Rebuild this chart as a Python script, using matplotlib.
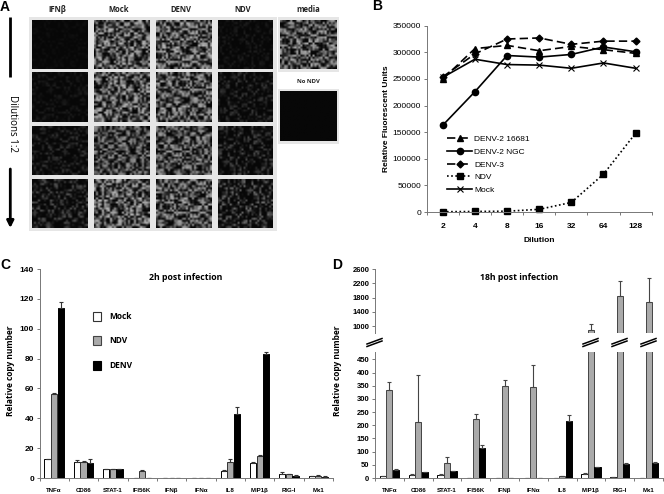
import numpy as np
import matplotlib
matplotlib.use('Agg')
import matplotlib.pyplot as plt
from matplotlib.lines import Line2D

W, H = 664, 494
plt.rcParams['font.family'] = ['Liberation Sans', 'DejaVu Sans']

# panel B
diluciones = ['2', '4', '8', '16', '32', '64', '128']
denv2_16681 = [250000, 307000, 313000, 303000, 311000, 305000, 298000]
denv2_ngc = [163000, 226000, 294000, 291000, 296000, 310000, 301000]
denv3 = [254000, 297000, 325000, 327000, 315000, 321000, 321000]
ndv_b = [500, 1000, 1500, 5000, 18000, 71000, 148000]
mock_b = [253000, 287000, 277000, 276000, 270000, 280000, 270000]
ticks_b = [0, 50000, 100000, 150000, 200000, 250000, 300000, 350000]

# panels C and D
genes = ['TNFα', 'CD86', 'STAT-1', 'IFI56K', 'IFNβ', 'IFNα', 'IL8', 'MIP1β', 'RIG-I', 'Mx1']
mock_c = [12.5, 11, 6, 0.3, 0, 0, 5, 10, 3, 1.2]
ndv_c = [56, 10.5, 5.7, 5, 0.3, 0, 10.5, 15, 2.5, 1.5]
denv_c = [114, 10, 5.7, 0.3, 0, 0, 43, 83, 1.5, 1]
mock_c_err = [0.3, 1.2, 0.2, 0, 0, 0, 0.3, 1, 0.7, 0.2]
ndv_c_err = [1, 1, 0.3, 0.3, 0, 0, 2.5, 0.5, 0.3, 0.3]
denv_c_err = [4, 2.5, 0.2, 0, 0, 0, 4.5, 1.5, 0.3, 0.2]

mock_d = [8, 10, 13, 1, 0, 0, 0, 17, 4, 1]
ndv_d = [335, 212, 57, 222, 350, 345, 6, 880, 1860, 1680]
denv_d = [32, 22, 25, 113, 1, 1, 217, 40, 55, 58]
mock_d_err = [0, 5, 2, 0, 0, 0, 0, 1, 0, 0]
ndv_d_err = [30, 178, 21, 20, 23, 82, 1, 180, 400, 680]
denv_d_err = [2, 2, 2, 14, 0, 0, 23, 2, 3, 4]

# panel A: brillo de cada micrografia (filas = diluciones)
columnas_a = ['IFNβ', 'Mock', 'DENV', 'NDV']
brillo_a = [[0.04, 0.80, 0.80, 0.10],
            [0.10, 0.80, 0.75, 0.22],
            [0.22, 0.65, 0.70, 0.30],
            [0.35, 0.80, 0.75, 0.45]]
brillo_media = 0.75
brillo_no_ndv = 0.0
textura = [[2, 7, 3, 1, 6, 8, 2, 1, 4, 7, 3, 1, 5, 9, 2, 4],
           [6, 4, 1, 5, 9, 3, 1, 6, 8, 2, 1, 6, 7, 2, 1, 7],
           [1, 2, 7, 8, 2, 1, 7, 8, 1, 3, 8, 5, 1, 3, 8, 5],
           [4, 8, 5, 1, 3, 6, 9, 2, 1, 7, 6, 1, 2, 7, 4, 1],
           [9, 3, 1, 2, 8, 4, 1, 3, 7, 5, 1, 3, 9, 5, 1, 2],
           [2, 1, 6, 7, 4, 1, 2, 8, 6, 1, 2, 8, 4, 1, 6, 8],
           [1, 5, 9, 2, 1, 7, 5, 3, 1, 4, 9, 2, 1, 7, 8, 3],
           [7, 6, 2, 1, 6, 9, 1, 1, 5, 8, 3, 1, 6, 5, 1, 1],
           [3, 1, 1, 8, 5, 2, 3, 7, 9, 2, 1, 7, 8, 1, 2, 6],
           [1, 4, 8, 6, 1, 1, 8, 6, 1, 1, 5, 9, 2, 1, 9, 4],
           [6, 9, 3, 1, 2, 7, 4, 1, 3, 8, 6, 1, 1, 6, 5, 1],
           [8, 2, 1, 4, 9, 5, 1, 2, 7, 6, 1, 3, 8, 4, 1, 3],
           [1, 1, 7, 8, 3, 1, 6, 9, 4, 1, 2, 9, 5, 1, 2, 8],
           [4, 6, 5, 1, 1, 4, 8, 2, 1, 5, 8, 4, 1, 3, 9, 6],
           [9, 3, 1, 2, 7, 9, 1, 1, 6, 9, 3, 1, 2, 8, 4, 1],
           [2, 1, 4, 9, 6, 1, 3, 7, 8, 1, 1, 6, 9, 5, 1, 2]]
orden_filas = [5, 12, 1, 9, 14, 3, 7, 0, 11, 15, 2, 8, 4, 13, 6, 10]
orden_cols = [9, 2, 14, 6, 0, 11, 4, 13, 1, 7, 15, 3, 10, 5, 12, 8]

fig = plt.figure(figsize=(W / 100, H / 100), dpi=100)


def ejes(x0, y0, x1, y1):
    # caja en pixeles de la imagen
    return fig.add_axes([x0 / W, 1 - y1 / H, (x1 - x0) / W, (y1 - y0) / H])


capa = ejes(0, 0, W, H)
capa.set_xlim(0, W)
capa.set_ylim(H, 0)
capa.axis('off')
capa.set_zorder(10)

for t, x, y in [('A', 5, 7), ('B', 377, 6), ('C', 5, 265), ('D', 337, 265)]:
    capa.text(x, y, t, fontsize=10, fontweight='bold', ha='center', va='center')

# --- panel A ---
gris = '#e6e6e6'
capa.fill_between([29, 277], 17, 231, color=gris, lw=0)
capa.fill_between([278, 339], 17, 72, color=gris, lw=0)
capa.fill_between([278, 339], 89, 144, color=gris, lw=0)
t0 = (np.array(textura) - 1) / 8
tile = t0[orden_filas][:, orden_cols]
tile = np.block([[tile, tile[orden_filas][:, ::-1]],
                 [tile[::-1][:, orden_cols], tile[:, orden_cols]]])


def micro(x0, y0, x1, y1, nivel, giro):
    img = np.roll(np.rot90(tile, giro % 4), (giro * 5, giro * 3), axis=(0, 1))
    img = img ** (0.9 if nivel > 0.5 else 2.5)
    img = np.clip(0.03 + nivel * img * 0.85, 0, 1)
    capa.imshow(img[:24, :28], extent=[x0, x1, y1, y0], cmap='gray', vmin=0, vmax=1,
                aspect='auto', interpolation='bilinear', zorder=2)


xs_a = [(32, 88), (94, 150), (156, 212), (218, 273)]
ys_a = [(20, 69), (73, 122), (126, 175), (179, 228)]
for i, (y0, y1) in enumerate(ys_a):
    for j, (x0, x1) in enumerate(xs_a):
        micro(x0, y0, x1, y1, brillo_a[i][j], i * 4 + j + 1)
micro(280, 20, 337, 69, brillo_media, 9)
micro(280, 92, 337, 141, brillo_no_ndv, 2)
capa.set_xlim(0, W)
capa.set_ylim(H, 0)

for nombre, xc in zip(columnas_a, [57.7, 119, 181, 243]):
    capa.text(xc, 9.5, nombre, fontsize=5.5, fontweight='bold',
              ha='center', va='center', color='#222222', family=['Open Sans', 'DejaVu Sans'])
capa.text(308, 9.5, 'media', fontsize=5.5, fontweight='bold', ha='center', va='center', color='#222222',
          family=['Open Sans', 'DejaVu Sans'])
capa.text(308, 81.5, 'No NDV', fontsize=4.2, fontweight='bold', ha='center', va='center', color='#222222',
          family=['Open Sans', 'DejaVu Sans'])
capa.text(12, 123, 'Dilutions 1:2', fontsize=7, rotation=270, ha='center', va='center',
          family=['Open Sans', 'DejaVu Sans'])
capa.plot([10.3, 10.3], [17, 77], color='black', lw=2, solid_capstyle='butt')
capa.annotate('', xy=(10.3, 228), xytext=(10.3, 169),
              arrowprops=dict(arrowstyle='-|>', color='black', lw=2, mutation_scale=10, shrinkA=0, shrinkB=0))

# --- panel B ---
ax = ejes(426.7, 25.7, 651.7, 212)
x = np.arange(len(diluciones))
ax.plot(x, denv2_16681, color='black', ls=(0, (5, 2.5)), lw=1.2, marker='^', ms=4.5, label='DENV-2 16681', clip_on=False)
ax.plot(x, denv2_ngc, color='black', ls='-', lw=1.2, marker='o', ms=4.5, label='DENV-2 NGC', clip_on=False)
ax.plot(x, denv3, color='black', ls=(0, (5, 2.5)), lw=1.2, marker='D', ms=3.5, label='DENV-3', clip_on=False)
ax.plot(x, ndv_b, color='black', ls=(0, (1, 1.5)), lw=1.2, marker='s', ms=5, label='NDV', clip_on=False)
ax.plot(x, mock_b, color='black', ls='-', lw=1.2, marker='x', ms=4, mew=0.8, label='Mock', clip_on=False)
ax.set_xlim(-0.5, 6.5)
ax.set_ylim(0, 350000)
ax.set_yticks(ticks_b)
ax.set_xticks(np.arange(8) - 0.5, labels=[''] * 8)
ax.set_xticks(x, labels=diluciones, minor=True)
ax.tick_params(axis='x', which='minor', length=0, labelsize=6, pad=8)
for lab in ax.get_xticklabels(minor=True):
    lab.set_fontweight('bold')
ax.tick_params(axis='x', which='major', length=2, width=0.7, color='#777777')
ax.tick_params(axis='y', length=2, width=0.7, color='#777777', labelsize=6, pad=2)
ax.set_ylabel('Relative Fluorescent Units', fontsize=6, fontweight='bold', labelpad=2)
ax.set_xlabel('Dilution', fontsize=6, fontweight='bold', labelpad=5)
for s in ['top', 'right']:
    ax.spines[s].set_visible(False)
for s in ['left', 'bottom']:
    ax.spines[s].set_color('#777777')
    ax.spines[s].set_linewidth(0.7)
ax.legend(loc='upper left', bbox_to_anchor=((447 - 426.7) / 225, 1 - (135 - 25.7) / 186.3), frameon=False,
          fontsize=6, handlelength=3.0, handletextpad=0.25, labelspacing=0.6, borderpad=0, borderaxespad=0)


# --- panels C and D ---
def barras(a, mock, ndv, denv, e_mock, e_ndv, e_denv, borde, ancho=0.225):
    x = np.arange(len(genes))
    for k, (v, e, c, ec) in enumerate([(mock, e_mock, 'white', 'black'),
                                       (ndv, e_ndv, '#aaaaaa', borde),
                                       (denv, e_denv, 'black', 'black')]):
        a.bar(x + (k - 1) * ancho, v, ancho * 0.94, color=c, edgecolor=ec, linewidth=0.7,
              yerr=[np.zeros(len(e)), e], ecolor=borde, capsize=1.6,
              error_kw=dict(elinewidth=0.8, capthick=0.8))
    a.set_xlim(-0.5, len(genes) - 0.5)


def estilo(a, fuente=5.5):
    for s in ['top', 'right']:
        a.spines[s].set_visible(False)
    for s in ['left', 'bottom']:
        a.spines[s].set_color('#777777')
        a.spines[s].set_linewidth(0.7)
    a.tick_params(axis='y', length=2, width=0.7, color='#777777', labelsize=fuente, pad=2)
    for lab in a.get_yticklabels():
        lab.set_fontweight('bold')


def eje_genes(a):
    x = np.arange(len(genes))
    a.set_xticks(np.arange(len(genes) + 1) - 0.5, labels=[''] * (len(genes) + 1))
    a.set_xticks(x, labels=genes, minor=True)
    a.tick_params(axis='x', which='minor', length=0, labelsize=4.4, pad=7)
    a.tick_params(axis='x', which='major', length=2, width=0.7, color='#777777')
    for lab in a.get_xticklabels(minor=True):
        lab.set_fontweight('bold')


axc = ejes(39.5, 269, 333, 478)
barras(axc, mock_c, ndv_c, denv_c, mock_c_err, ndv_c_err, denv_c_err, '#333333')
axc.set_ylim(0, 140)
axc.set_yticks(range(0, 141, 20))
estilo(axc, 6)
eje_genes(axc)
capa.text(11, 371, 'Relative copy number', fontsize=6, fontweight='bold', rotation=90, ha='center', va='center',
          family=['Open Sans', 'DejaVu Sans'])
capa.text(185.5, 277, '2h post infection', fontsize=6.3, fontweight='bold', ha='center', va='center',
          family=['Open Sans', 'DejaVu Sans'])

# leyenda de C a mano
for nombre, cara, borde, y in [('Mock', 'white', '#333333', 316), ('NDV', '#aaaaaa', '#444444', 340.5),
                               ('DENV', 'black', 'black', 365.5)]:
    capa.add_patch(plt.Rectangle((92.5, y - 4.5), 8.5, 9, fc=cara, ec=borde, lw=0.8, zorder=3))
    capa.text(109, y, nombre, fontsize=6, fontweight='bold', ha='left', va='center',
              family=['Open Sans', 'DejaVu Sans'])

# D: eje partido
alto = ejes(375, 269.3, 663, 332.7)
bajo = ejes(375, 352, 663, 478)
barras(alto, mock_d, ndv_d, denv_d, mock_d_err, ndv_d_err, denv_d_err, '#444444')
barras(bajo, mock_d, ndv_d, denv_d, mock_d_err, ndv_d_err, denv_d_err, '#444444')
alto.set_ylim(812, 2600)
bajo.set_ylim(0, 478)
alto.set_yticks(range(1000, 2601, 400))
bajo.set_yticks(range(0, 451, 50))
estilo(alto)
estilo(bajo)
alto.spines['bottom'].set_visible(False)
alto.set_xticks([])
eje_genes(bajo)
capa.text(337, 371, 'Relative copy number', fontsize=6, fontweight='bold', rotation=90, ha='center', va='center',
          family=['Open Sans', 'DejaVu Sans'])
capa.text(519, 277, '18h post infection', fontsize=6.3, fontweight='bold', ha='center', va='center',
          family=['Open Sans', 'DejaVu Sans'])

# marcas de corte
for xc in [375, 591, 620, 649]:
    for dy in [-2, 0.5]:
        capa.add_line(Line2D([xc - 8, xc + 7], [346 + dy, 340.5 + dy], color='black', lw=1.1, zorder=5))

fig.savefig('out.png', dpi=100)
